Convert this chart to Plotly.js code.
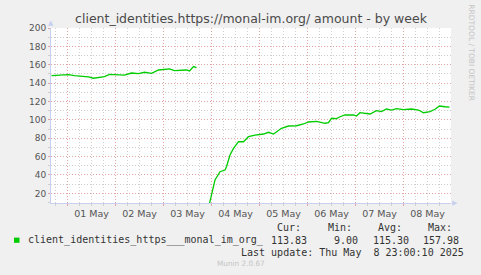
<!DOCTYPE html>
<html>
<head>
<meta charset="utf-8">
<script src="https://cdn.plot.ly/plotly-3.0.1.min.js"></script>
<style>
html,body{margin:0;padding:0;background:#F0F0F0;}
#chart{width:481px;height:275px;}
</style>
</head>
<body>
<div id="chart"></div>
<script>
// ---- data ----
const seriesName = 'client_identities_https___monal_im_org_';
const times = [
  '2025-04-30 16:00','2025-04-30 21:00','2025-05-01 00:30','2025-05-01 03:30','2025-05-01 07:00',
  '2025-05-01 10:30','2025-05-01 13:00','2025-05-01 15:30','2025-05-01 18:30','2025-05-01 21:00',
  '2025-05-02 01:30','2025-05-02 04:30','2025-05-02 08:00','2025-05-02 11:30','2025-05-02 14:30',
  '2025-05-02 18:00','2025-05-02 21:30','2025-05-03 00:30','2025-05-03 03:00','2025-05-03 05:30',
  '2025-05-03 09:00','2025-05-03 11:30','2025-05-03 13:00','2025-05-03 15:00','2025-05-03 16:30',
  '2025-05-03 20:00',
  '2025-05-03 23:00','2025-05-04 01:00','2025-05-04 01:45','2025-05-04 04:15','2025-05-04 06:45',
  '2025-05-04 07:30','2025-05-04 09:15','2025-05-04 11:00','2025-05-04 13:30','2025-05-04 16:00',
  '2025-05-04 18:30','2025-05-04 21:45','2025-05-05 02:00','2025-05-05 04:30','2025-05-05 07:00',
  '2025-05-05 11:00','2025-05-05 14:30','2025-05-05 18:30','2025-05-05 22:00','2025-05-06 00:30',
  '2025-05-06 04:30','2025-05-06 08:45','2025-05-06 10:30','2025-05-06 12:00','2025-05-06 14:30',
  '2025-05-06 16:15','2025-05-06 18:45','2025-05-06 23:00','2025-05-07 00:30','2025-05-07 02:15',
  '2025-05-07 06:30','2025-05-07 07:15','2025-05-07 10:30','2025-05-07 13:00','2025-05-07 15:30',
  '2025-05-07 18:00','2025-05-07 20:30','2025-05-08 00:00','2025-05-08 04:00','2025-05-08 07:30',
  '2025-05-08 10:00','2025-05-08 13:15','2025-05-08 15:45','2025-05-08 18:00','2025-05-08 20:45',
  '2025-05-08 23:00'
];
const amounts = [
  148.1,148.4,149.2,148.1,147.7,
  146.7,145.3,146.3,147.0,149.6,
  149.6,148.8,151.0,150.3,151.8,
  150.7,154.3,155.0,155.4,153.6,
  154.0,154.3,153.2,157.98,156.8,
  null,
  9.0,27.2,34.5,43.6,45.4,
  49.0,61.7,69.0,76.2,76.2,
  81.7,83.5,84.6,86.5,84.6,
  90.8,93.3,93.6,95.5,97.7,
  98.4,96.3,96.9,101.7,101.3,
  103.4,105.3,105.3,104.2,107.8,
  107.1,106.4,110.0,108.9,111.8,
  110.7,112.2,111.1,111.8,110.7,
  107.8,108.9,111.5,115.1,114.3,
  113.83
];
const statLabels = ['Cur:','Min:','Avg:','Max:'];
const statValues = ['113.83','9.00','115.30','157.98'];
const titleText = 'client_identities.https://monal-im.org/ amount - by week';
const lastUpdate = 'Last update: Thu May\u00a0\u00a08 23:00:10 2025';
const xRange = ['2025-04-30 15:45','2025-05-08 23:45'];
const yRange = [9.5, 200];

// ---- layout helpers (pixel -> paper) ----
const L = 51, R = 451, T = 28, B = 203;
const px = x => (x - L) / (R - L);
const py = y => (B - y) / (B - T);

const mono = {family:'DejaVu Sans Mono', size:10, color:'#333333'};
const annotations = [];
const headerRight = [302.7, 354, 404, 454];
const valueRight = [309.3, 360, 410.7, 460.7];
statLabels.forEach((s,i)=>annotations.push({xref:'paper',yref:'paper',x:px(headerRight[i]),y:py(227.3),
  text:s,showarrow:false,xanchor:'right',yanchor:'middle',font:mono}));
statValues.forEach((s,i)=>annotations.push({xref:'paper',yref:'paper',x:px(valueRight[i]),y:py(240),
  text:s,showarrow:false,xanchor:'right',yanchor:'middle',font:mono}));
annotations.push({xref:'paper',yref:'paper',x:px(26.2),y:py(240),text:seriesName,showarrow:false,
  xanchor:'left',yanchor:'middle',font:mono});
annotations.push({xref:'paper',yref:'paper',x:px(466),y:py(252.3),text:lastUpdate,showarrow:false,
  xanchor:'right',yanchor:'middle',font:mono});
annotations.push({xref:'paper',yref:'paper',x:px(240.5),y:py(263.7),text:'Munin 2.0.67',showarrow:false,
  xanchor:'center',yanchor:'middle',font:{family:'DejaVu Sans',size:7.3,color:'#c4c4c4'}});
annotations.push({xref:'paper',yref:'paper',x:px(471.7),y:py(53),text:'RRDTOOL / TOBI OETIKER',showarrow:false,
  textangle:90,xanchor:'center',yanchor:'middle',font:{family:'DejaVu Sans',size:7.5,color:'#c4c4c4'}});
// axis arrows
annotations.push({xref:'paper',yref:'paper',x:px(51),y:py(23),text:'\u25B2',showarrow:false,
  xanchor:'center',yanchor:'middle',font:{family:'DejaVu Sans',size:7,color:'#c8d0f0'}});
annotations.push({xref:'paper',yref:'paper',x:px(455),y:py(203),text:'\u25B6',showarrow:false,
  xanchor:'center',yanchor:'middle',font:{family:'DejaVu Sans',size:7,color:'#c8d0f0'}});

const shapes = [{type:'rect',xref:'paper',yref:'paper',x0:px(14),x1:px(19.5),y0:py(242.8),y1:py(237.6),
  fillcolor:'#00CC00',line:{width:0}}];

const trace = {
  x: times, y: amounts, type:'scatter', mode:'lines', name: seriesName,
  connectgaps:false, line:{color:'#00CC00', width:1.3}, hoverinfo:'skip'
};

const layout = {
  width:481, height:275,
  margin:{l:L, r:481-R, t:T, b:275-B, pad:0},
  paper_bgcolor:'#F0F0F0', plot_bgcolor:'#FFFFFF',
  showlegend:false,
  title:{text:titleText, x:0.5, xanchor:'center', xref:'paper', y:1-19/275, yanchor:'middle',
    font:{family:'DejaVu Sans', size:12.5, color:'#4a4a4a'}},
  xaxis:{type:'date', range:xRange, tick0:'2025-05-01', dtick:86400000, tickformat:'%d %b',
    ticklabelmode:'period', showgrid:true, gridcolor:'#e3a3a3', griddash:'1px,2px', gridwidth:1,
    ticks:'outside', ticklen:2, tickcolor:'#e3a3a3',
    minor:{dtick:21600000, tick0:'2025-05-01', showgrid:true, gridcolor:'#cfcfcf', griddash:'1px,2px',
      ticks:'outside', ticklen:2, tickcolor:'#cfcfcf'},
    showline:true, linecolor:'#c8d0f0', linewidth:1, zeroline:false,
    tickfont:{family:'DejaVu Sans', size:9.5, color:'#555555'}, fixedrange:true},
  yaxis:{range:yRange, tick0:0, dtick:20, showgrid:true, gridcolor:'#e3a3a3', griddash:'1px,2px',
    ticks:'outside', ticklen:2, tickcolor:'#e3a3a3',
    minor:{dtick:10, tick0:0, showgrid:true, gridcolor:'#cfcfcf', griddash:'1px,2px',
      ticks:'outside', ticklen:2, tickcolor:'#cfcfcf'},
    showline:true, linecolor:'#c8d0f0', linewidth:1, zeroline:false,
    tickfont:{family:'DejaVu Sans', size:9, color:'#555555'}, fixedrange:true},
  annotations: annotations,
  shapes: shapes
};

Plotly.newPlot('chart', [trace], layout, {displayModeBar:false, staticPlot:true});
</script>
</body>
</html>
